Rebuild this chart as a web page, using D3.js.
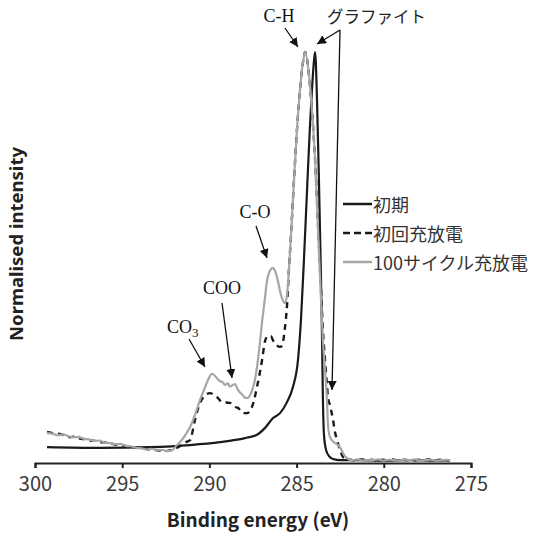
<!DOCTYPE html>
<html><head><meta charset="utf-8">
<script src="https://cdn.jsdelivr.net/npm/d3@7"></script>
<style>body{margin:0;background:#fff}svg{display:block}</style>
</head><body>
<svg id="c" width="537" height="535"></svg>
<script>
// Binding energy (eV) / normalised intensity pairs
const initialBE = [299.31,296.27,293.41,291.11,289.39,287.96,287.27,286.81,286.35,285.95,285.55,285.21,284.92,284.75,284.58,284.40,284.23,284.12,284.00,283.94,
  283.83,283.72,283.60,283.54,283.49,283.43,283.31,283.14,282.91,282.51,281.5,280.0,278.5,277.0,276.2];
const initialI  = [0.034,0.032,0.034,0.039,0.046,0.056,0.064,0.081,0.105,0.117,0.144,0.181,0.247,0.345,0.491,0.663,0.822,0.907,0.980,1.000,
  0.883,0.687,0.443,0.296,0.149,0.064,0.027,0.012,0.005,0.002,0.002,0.001,0.002,0.001,0.002];

const firstBE = [299.31,298.95,298.57,298.2,297.99,297.7,297.42,297.1,296.85,296.5,296.27,295.9,295.70,295.4,295.13,294.8,294.55,294.2,293.98,293.7,293.41,293.1,292.84,292.55,292.26,291.97,291.69,291.40,291.11,290.83,290.54,290.25,289.97,289.68,289.56,289.27,288.82,288.53,288.36,288.07,287.85,287.56,287.27,286.98,286.81,286.64,286.47,286.35,286.18,285.95,285.84,285.67,285.55,285.44,285.32,285.15,284.98,284.81,284.69,284.58,284.52,
  284.29,284.12,283.94,283.77,283.60,283.49,283.37,283.26,283.20,283.09,282.91,282.80,282.68,282.51,282.34,282.17,281.9,281.6,281.3,281.0,280.7,280.4,280.1,279.8,279.5,279.2,278.9,278.6,278.3,278.0,277.7,277.4,277.1,276.8,276.5,276.2];
const firstI  = [0.071,0.068,0.066,0.061,0.058,0.060,0.055,0.053,0.050,0.049,0.046,0.045,0.044,0.040,0.039,0.037,0.035,0.033,0.032,0.030,0.028,0.027,0.025,0.024,0.026,0.030,0.036,0.045,0.051,0.100,0.142,0.160,0.166,0.160,0.156,0.144,0.142,0.132,0.130,0.117,0.117,0.132,0.181,0.247,0.293,0.306,0.305,0.295,0.285,0.279,0.282,0.325,0.380,0.467,0.553,0.687,0.809,0.905,0.958,0.988,1.000,
  0.944,0.858,0.736,0.577,0.418,0.320,0.247,0.186,0.156,0.137,0.100,0.071,0.051,0.027,0.010,0.005,0.003,0.001,0.004,0.002,0.003,0.001,0.003,0.002,0.004,0.001,0.003,0.002,0.001,0.003,0.002,0.004,0.001,0.003,0.002,0.002];

const cycleBE = [299.31,299.0,298.7,298.4,298.1,297.8,297.5,297.2,296.9,296.6,296.3,296.0,295.7,295.4,295.1,294.8,294.5,294.2,293.9,293.6,293.3,293.0,292.7,292.4,292.1,291.97,291.69,291.40,291.11,290.83,290.54,290.25,290.08,289.85,289.68,289.52,289.39,289.25,289.11,288.95,288.82,288.65,288.53,288.36,288.07,287.96,287.79,287.67,287.56,287.39,287.27,287.10,286.98,286.81,286.70,286.53,286.35,286.24,286.07,285.95,285.78,285.67,285.55,285.44,285.32,285.15,284.98,284.81,284.69,284.58,284.52,
  284.29,284.12,283.94,283.77,283.60,283.49,283.37,283.26,283.20,283.09,282.86,282.63,282.45,282.28,282.05,281.82,281.5,281.2,280.9,280.6,280.3,280.0,279.7,279.4,279.1,278.8,278.5,278.2,277.9,277.6,277.3,277.0,276.7,276.4,276.2];
const cycleI  = [0.068,0.067,0.063,0.065,0.061,0.058,0.059,0.054,0.053,0.049,0.050,0.045,0.044,0.041,0.042,0.037,0.036,0.032,0.031,0.028,0.030,0.026,0.027,0.024,0.027,0.034,0.046,0.062,0.083,0.112,0.149,0.180,0.198,0.213,0.208,0.200,0.195,0.193,0.186,0.190,0.182,0.186,0.188,0.174,0.160,0.155,0.154,0.161,0.172,0.198,0.230,0.290,0.340,0.400,0.440,0.465,0.472,0.465,0.440,0.415,0.392,0.386,0.406,0.467,0.553,0.687,0.809,0.905,0.958,0.988,1.000,
  0.944,0.858,0.736,0.565,0.394,0.296,0.222,0.149,0.088,0.059,0.046,0.039,0.029,0.015,0.005,0.002,0.004,0.001,0.003,0.002,0.004,0.001,0.003,0.002,0.001,0.003,0.002,0.004,0.001,0.002,0.003,0.001,0.002,0.003,0.002];

const xTicks = [300,295,290,285,280,275];
const seriesNames = ["初期","初回充放電","100サイクル充放電"];
const xTitle = "Binding energy (eV)";
const yTitle = "Normalised intensity";

const svg = d3.select("#c");
const x = d3.scaleLinear().domain([300,275]).range([35,471]);
const y = d3.scaleLinear().domain([0,1]).range([461,52]);

// axis
const ax = svg.append("g").attr("transform","translate(0,463)")
  .call(d3.axisBottom(x).tickValues(xTicks).tickSize(5).tickPadding(9).tickFormat(d3.format("d")));
ax.select(".domain").attr("stroke","#222").attr("stroke-width",2);
ax.selectAll(".tick line").attr("stroke","#222").attr("stroke-width",2);
ax.selectAll(".tick text").attr("font-family","'Noto Sans CJK JP','Noto Sans',sans-serif").attr("font-size",20).attr("fill","#3a3a3a");

svg.append("text").attr("x",258).attr("y",527).attr("text-anchor","middle")
  .attr("font-family","'Noto Sans CJK JP','Noto Sans',sans-serif").attr("font-weight","bold").attr("font-size",19).attr("fill","#222").text(xTitle);
svg.append("text").attr("transform","translate(23,244) rotate(-90)").attr("text-anchor","middle")
  .attr("font-family","'Noto Sans','DejaVu Sans',sans-serif").attr("font-weight","bold").attr("font-size",18.5).attr("fill","#222").text(yTitle);

const line = d3.line().x(d=>x(d[0])).y(d=>y(d[1])).curve(d3.curveMonotoneX);
const zip = (a,b)=>a.map((v,i)=>[v,b[i]]);
const styles = [
  {stroke:"#1a1a1a", dash:null, w:2.2},
  {stroke:"#1a1a1a", dash:"6,5", w:2.4},
  {stroke:"#a6a6a6", dash:null, w:2.2}
];
const series = [zip(initialBE,initialI), zip(firstBE,firstI), zip(cycleBE,cycleI)];
// draw black, then dashed, then gray on top
[0,1,2].forEach(i=>{
  svg.append("path").datum(series[i]).attr("d",line).attr("fill","none")
    .attr("stroke",styles[i].stroke).attr("stroke-width",styles[i].w)
    .attr("stroke-dasharray",styles[i].dash).attr("stroke-linejoin","round");
});

// legend
const lg = svg.append("g");
seriesNames.forEach((n,i)=>{
  const yy = 204 + i*29;
  lg.append("line").attr("x1",343).attr("x2",372).attr("y1",yy).attr("y2",yy)
    .attr("stroke",styles[i].stroke).attr("stroke-width",2.5).attr("stroke-dasharray",i===1?"7,4":null);
  lg.append("text").attr("x",373).attr("y",yy).attr("dominant-baseline","central")
    .attr("font-family","'Noto Sans CJK JP',sans-serif").attr("font-size",18).attr("fill","#333").text(n);
});

// annotations
const defs = svg.append("defs");
defs.append("marker").attr("id","ah").attr("viewBox","0 0 10 10").attr("refX",10).attr("refY",5)
  .attr("markerWidth",9).attr("markerHeight",9).attr("markerUnits","userSpaceOnUse").attr("orient","auto")
  .append("path").attr("d","M0,0L10,5L0,10z").attr("fill","#111");
const arrow = (x1,y1,x2,y2)=>svg.append("line").attr("x1",x1).attr("y1",y1).attr("x2",x2).attr("y2",y2)
  .attr("stroke","#111").attr("stroke-width",1.3).attr("marker-end","url(#ah)");
const serif = "'Liberation Serif','Times New Roman',serif";
const lab = (t,xx,yy,anchor)=>svg.append("text").attr("x",xx).attr("y",yy).attr("text-anchor",anchor||"middle")
  .attr("font-family",serif).attr("font-size",18).attr("fill","#111").text(t);

lab("C-H",279,22);
arrow(285,28,298,47);
svg.append("text").attr("x",327).attr("y",23).attr("font-family","'Noto Sans CJK JP',sans-serif")
  .attr("font-size",16.5).attr("fill","#222").text("グラファイト");
arrow(340,30,317,44);
arrow(340,30,332,390);
lab("C-O",255,218);
arrow(256,226,267,258);
lab("COO",222,294);
arrow(222,303,232,378);
const co3 = lab("CO",167,333,"start");
co3.append("tspan").attr("font-size",13).attr("dy",4).text("3");
arrow(189,339,205,367);
</script>
</body></html>
